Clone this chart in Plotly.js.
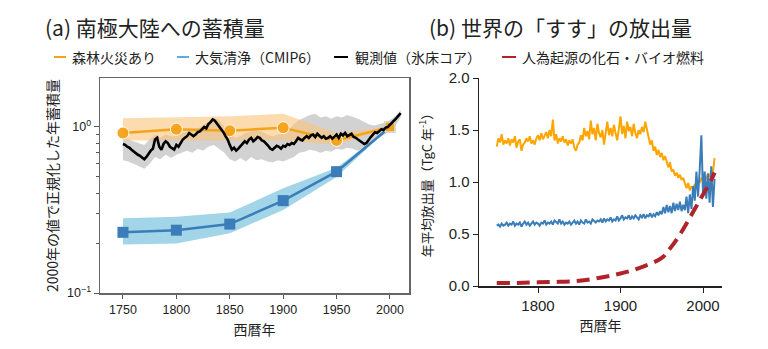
<!DOCTYPE html>
<html>
<head>
<meta charset="utf-8">
<script src="https://cdn.plot.ly/plotly-3.0.1.min.js"></script>
<style>html,body{margin:0;padding:0;background:#fff;}#chart{width:768px;height:349px;}</style>
</head>
<body>
<div id="chart"></div>
<script>
// ---------- Panel (a): accumulation in Antarctica (normalized to 2000) ----------
const modelYears = [1750, 1800, 1850, 1900, 1950, 2000];
const fireVals   = [0.92, 0.97, 0.95, 0.99, 0.83, 1.00];
const fireUpper  = [1.13, 1.15, 1.16, 1.20, 0.92, 1.00];
const fireLower  = [0.83, 0.83, 0.83, 0.83, 0.78, 1.00];
const cmipVals   = [0.232, 0.239, 0.26, 0.36, 0.538, 1.00];
const cmipUpper  = [0.282, 0.288, 0.305, 0.427, 0.569, 1.00];
const cmipLower  = [0.196, 0.199, 0.229, 0.316, 0.50, 1.00];

const obsYears = [1750,1752,1754,1756,1758,1760,1762,1764,1766,1768,1770,1772,1774,1776,1778,1780,1782,1784,1786,1788,1790,1792,1794,1796,1798,1800,1802,1804,1806,1808,1810,1812,1814,1816,1818,1820,1822,1824,1826,1828,1830,1832,1834,1836,1838,1840,1842,1844,1846,1848,1850,1852,1854,1856,1858,1860,1862,1864,1866,1868,1870,1872,1874,1876,1878,1880,1882,1884,1886,1888,1890,1892,1894,1896,1898,1900,1902,1904,1906,1908,1910,1912,1914,1916,1918,1920,1922,1924,1926,1928,1930,1932,1934,1936,1938,1940,1942,1944,1946,1948,1950,1952,1954,1956,1958,1960,1962,1964,1966,1968,1970,1972,1974,1976,1978,1980,1982,1984,1986,1988,1990,1992,1994,1996,1998,2000,2002,2004,2006,2008,2010];
const obsVals = [0.79,0.78,0.76,0.75,0.73,0.71,0.70,0.68,0.67,0.65,0.64,0.66,0.69,0.72,0.74,0.84,0.86,0.76,0.73,0.79,0.82,0.80,0.76,0.74,0.73,0.78,0.76,0.80,0.84,0.86,0.88,0.92,0.90,0.88,0.90,0.93,0.94,0.97,1.00,0.98,1.04,1.07,1.11,1.09,1.05,1.00,0.97,0.93,0.88,0.84,0.78,0.73,0.75,0.72,0.74,0.77,0.79,0.82,0.80,0.84,0.86,0.82,0.84,0.87,0.86,0.83,0.82,0.80,0.77,0.74,0.73,0.75,0.77,0.76,0.74,0.77,0.76,0.79,0.78,0.80,0.79,0.82,0.86,0.84,0.83,0.86,0.88,0.86,0.89,0.90,0.87,0.91,0.89,0.86,0.88,0.85,0.86,0.88,0.85,0.88,0.90,0.86,0.91,0.89,0.92,0.88,0.90,0.91,0.87,0.86,0.84,0.82,0.81,0.79,0.80,0.84,0.87,0.90,0.93,0.92,0.95,0.97,0.96,0.99,1.00,1.03,1.05,1.09,1.13,1.17,1.21];

const obsBandYears = [1750,1755,1760,1765,1770,1775,1780,1785,1790,1795,1800,1805,1810,1815,1820,1825,1830,1835,1840,1845,1850,1855,1860,1865,1870,1875,1880,1885,1890,1895,1900,1905,1910,1915,1920,1925,1930,1935,1940,1945,1950,1955,1960,1965,1970,1975,1980,1985,1990,1995,2000,2005,2010];
const obsLower = [0.63,0.62,0.60,0.58,0.56,0.60,0.66,0.64,0.68,0.65,0.68,0.70,0.72,0.70,0.74,0.72,0.76,0.78,0.74,0.70,0.64,0.62,0.65,0.62,0.66,0.63,0.64,0.62,0.61,0.63,0.62,0.64,0.66,0.70,0.71,0.73,0.72,0.70,0.72,0.71,0.74,0.73,0.75,0.74,0.72,0.74,0.78,0.82,0.86,0.90,0.96,1.02,1.14];
const obsUpper = [0.86,0.84,0.82,0.80,0.78,0.84,0.90,0.86,0.90,0.88,0.88,0.92,0.94,0.96,0.98,1.02,1.08,1.14,1.10,1.00,0.92,0.86,0.88,0.92,0.94,0.96,0.94,0.90,0.88,0.90,0.92,0.96,1.04,1.10,1.14,1.18,1.20,1.14,1.16,1.12,1.16,1.14,1.18,1.15,1.12,1.08,1.04,1.02,1.04,1.06,1.10,1.16,1.26];

// ---------- Panel (b): global black carbon emissions (TgC/yr) ----------
const emisYears = [];
for (let y = 1750; y <= 2014; y += 2) emisYears.push(y);
const fireEmis = [1.34,1.42,1.38,1.46,1.36,1.40,1.37,1.42,1.35,1.41,1.38,1.44,1.33,1.39,1.41,1.30,1.36,1.38,1.42,1.39,1.44,1.37,1.40,1.36,1.42,1.45,1.40,1.47,1.41,1.44,1.48,1.42,1.50,1.44,1.60,1.40,1.46,1.37,1.42,1.39,1.44,1.38,1.41,1.35,1.40,1.37,1.41,1.33,1.30,1.36,1.38,1.45,1.40,1.52,1.44,1.49,1.41,1.59,1.46,1.52,1.40,1.56,1.47,1.43,1.50,1.36,1.48,1.58,1.45,1.52,1.44,1.55,1.47,1.40,1.51,1.63,1.46,1.54,1.42,1.58,1.49,1.53,1.44,1.56,1.47,1.42,1.50,1.46,1.53,1.48,1.58,1.50,1.45,1.36,1.40,1.30,1.34,1.26,1.31,1.24,1.28,1.21,1.25,1.18,1.14,1.19,1.10,1.12,1.06,1.09,1.04,1.07,1.02,1.04,0.98,0.94,0.99,0.92,0.96,0.93,0.98,0.95,1.02,0.99,1.04,1.01,1.06,1.03,1.08,1.05,1.11,1.09,1.23];
const cleanEmis = [0.58,0.59,0.57,0.60,0.58,0.59,0.61,0.58,0.60,0.59,0.62,0.58,0.60,0.59,0.61,0.57,0.60,0.62,0.59,0.61,0.58,0.60,0.62,0.59,0.61,0.60,0.58,0.61,0.60,0.63,0.59,0.61,0.60,0.62,0.59,0.63,0.61,0.60,0.64,0.60,0.62,0.59,0.61,0.60,0.62,0.59,0.61,0.63,0.60,0.62,0.59,0.63,0.61,0.60,0.64,0.61,0.62,0.60,0.64,0.62,0.61,0.63,0.62,0.64,0.61,0.65,0.62,0.64,0.63,0.66,0.62,0.64,0.63,0.67,0.63,0.65,0.68,0.64,0.66,0.65,0.68,0.64,0.67,0.65,0.68,0.66,0.64,0.68,0.66,0.69,0.65,0.68,0.67,0.70,0.66,0.69,0.67,0.71,0.68,0.72,0.69,0.76,0.70,0.78,0.71,0.77,0.70,0.80,0.72,0.79,0.73,0.81,0.72,0.78,0.73,0.86,0.70,0.88,0.74,0.96,0.82,1.10,0.86,1.12,1.45,0.88,1.10,0.84,1.08,0.80,1.15,0.76,1.03];
const anthroYears = [1750,1775,1800,1825,1850,1875,1900,1925,1950,1960,1970,1980,1990,2000,2010,2014];
const anthroEmis  = [0.03,0.03,0.035,0.04,0.05,0.08,0.12,0.18,0.27,0.36,0.47,0.60,0.74,0.88,1.02,1.09];

// ---------- Labels ----------
const titleA = '(a) 南極大陸への蓄積量';
const titleB = '(b) 世界の「すす」の放出量';
const legendLabels = ['森林火災あり', '大気清浄（CMIP6）', '観測値（氷床コア）', '人為起源の化石・バイオ燃料'];
const xTitle = '西暦年';
const yTitleA = '2000年の値で正規化した年蓄積量';
const yTitleB = '年平均放出量（TgC 年<sup>-1</sup>）';
const xTicksA = [1750, 1800, 1850, 1900, 1950, 2000];
const xTicksB = [1800, 1900, 2000];
const yTicksB = [0, 0.5, 1.0, 1.5, 2.0];

const ORANGE = '#F5A31A', BLUE = '#3B7DB8', RED = '#B0232A';
const FONT = 'Liberation Sans, Noto Sans CJK JP, sans-serif';
const CJK = 'Noto Sans CJK JP, sans-serif';

function band(xs, up, lo) {
  return { x: xs.concat(xs.slice().reverse()), y: up.concat(lo.slice().reverse()) };
}
const gb = band(obsBandYears, obsUpper, obsLower);
const ob = band(modelYears, fireUpper, fireLower);
const cb = band(modelYears, cmipUpper, cmipLower);

const traces = [
  {x: gb.x, y: gb.y, xaxis:'x', yaxis:'y', fill:'toself', fillcolor:'#D2D2D2', line:{width:0}, mode:'lines', hoverinfo:'skip'},
  {x: ob.x, y: ob.y, xaxis:'x', yaxis:'y', fill:'toself', fillcolor:'rgba(250,196,120,0.6)', line:{width:0}, mode:'lines', hoverinfo:'skip'},
  {x: cb.x, y: cb.y, xaxis:'x', yaxis:'y', fill:'toself', fillcolor:'#A3D5E8', line:{width:0}, mode:'lines', hoverinfo:'skip'},
  {x: modelYears, y: cmipVals, xaxis:'x', yaxis:'y', mode:'lines+markers', line:{color:BLUE, width:2.5}, marker:{symbol:'square', size:11, color:BLUE}},
  {x: modelYears, y: fireVals, xaxis:'x', yaxis:'y', mode:'lines+markers', line:{color:ORANGE, width:2.5},
   marker:{symbol:['circle','circle','circle','circle','circle','square'], size:[12,12,12,12,12,10], color:ORANGE, opacity:0.95}},
  {x: obsYears, y: obsVals, xaxis:'x', yaxis:'y', mode:'lines', line:{color:'#000', width:2.6}},
  {x: emisYears, y: fireEmis, xaxis:'x2', yaxis:'y2', mode:'lines', line:{color:'#FFA500', width:2}},
  {x: emisYears, y: cleanEmis, xaxis:'x2', yaxis:'y2', mode:'lines', line:{color:BLUE, width:2}},
  {x: anthroYears, y: anthroEmis, xaxis:'x2', yaxis:'y2', mode:'lines', line:{color:RED, width:4, dash:'13px,7px', shape:'spline'}}
];

const W = 768, H = 349;
const px = v => v / W, py = v => 1 - v / H;

const legendSwatch = [[54, 66, ORANGE], [177, 189, '#5BAEDC'], [334, 348, '#000'], [502, 516, RED]];
const legendTextX = [70, 193, 353, 520];
const legY = 57;

const shapes = legendSwatch.map(s => ({type:'line', xref:'paper', yref:'paper', x0:px(s[0]), x1:px(s[1]), y0:py(legY), y1:py(legY), line:{color:s[2], width:2}}));
const annotations = [
  {text:titleA, x:px(43), y:py(27), xref:'paper', yref:'paper', xanchor:'left', yanchor:'middle', showarrow:false, font:{family:CJK, size:21, color:'#222'}},
  {text:titleB, x:px(427), y:py(27), xref:'paper', yref:'paper', xanchor:'left', yanchor:'middle', showarrow:false, font:{family:CJK, size:21, color:'#222'}}
].concat(legendLabels.map((t, i) => ({text:t, x:px(legendTextX[i]), y:py(legY), xref:'paper', yref:'paper', xanchor:'left', yanchor:'middle', showarrow:false, font:{family:CJK, size:14, color:'#222'}})));

const layout = {
  width: W, height: H, margin:{l:0, r:0, t:0, b:0}, showlegend:false,
  paper_bgcolor:'#fff', plot_bgcolor:'#fff',
  font:{family:FONT, color:'#222', size:12},
  xaxis:{domain:[px(100), px(409)], range:[1728.5, 2017.8], anchor:'y', tickmode:'array', tickvals:xTicksA,
    ticks:'outside', ticklen:4, tickcolor:'#555', showline:true, mirror:true, linecolor:'#666', linewidth:1.5,
    showgrid:false, zeroline:false, tickfont:{size:12.5},
    title:{text:xTitle, font:{family:CJK, size:14}, standoff:9}},
  yaxis:{domain:[py(293), py(78)], type:'log', range:[-1, 0.295], anchor:'x', tickmode:'array', tickvals:[0.1, 1],
    ticktext:['10<sup>−1</sup>', '10<sup>0</sup>'], ticks:'outside', ticklen:5, tickcolor:'#555',
    minor:{tickmode:'array', tickvals:[0.2,0.3,0.4,0.5,0.6,0.7,0.8,0.9], ticks:'outside', ticklen:3, tickcolor:'#555', showgrid:false},
    showline:true, mirror:true, linecolor:'#666', linewidth:1.5, showgrid:false, zeroline:false, tickfont:{size:12.5},
    title:{text:yTitleA, font:{family:CJK, size:14}, standoff:5}},
  xaxis2:{domain:[px(479), px(722)], range:[1728.5, 2023], anchor:'y2', tickmode:'array', tickvals:xTicksB,
    ticks:'outside', ticklen:5, tickcolor:'#222', showline:true, linecolor:'#222', linewidth:1.5,
    showgrid:false, zeroline:false, tickfont:{size:15},
    title:{text:xTitle, font:{family:CJK, size:14}, standoff:8}},
  yaxis2:{domain:[py(286), py(78)], range:[0, 2.0], anchor:'x2', tickmode:'array', tickvals:yTicksB, tickformat:'.1f',
    ticks:'outside', ticklen:5, tickcolor:'#222', showline:true, linecolor:'#222', linewidth:1.5,
    showgrid:false, zeroline:false, tickfont:{size:15},
    title:{text:yTitleB, font:{family:CJK, size:13}, standoff:13}},
  shapes: shapes,
  annotations: annotations
};

Plotly.newPlot('chart', traces, layout, {staticPlot:true, displayModeBar:false});
</script>
</body>
</html>
